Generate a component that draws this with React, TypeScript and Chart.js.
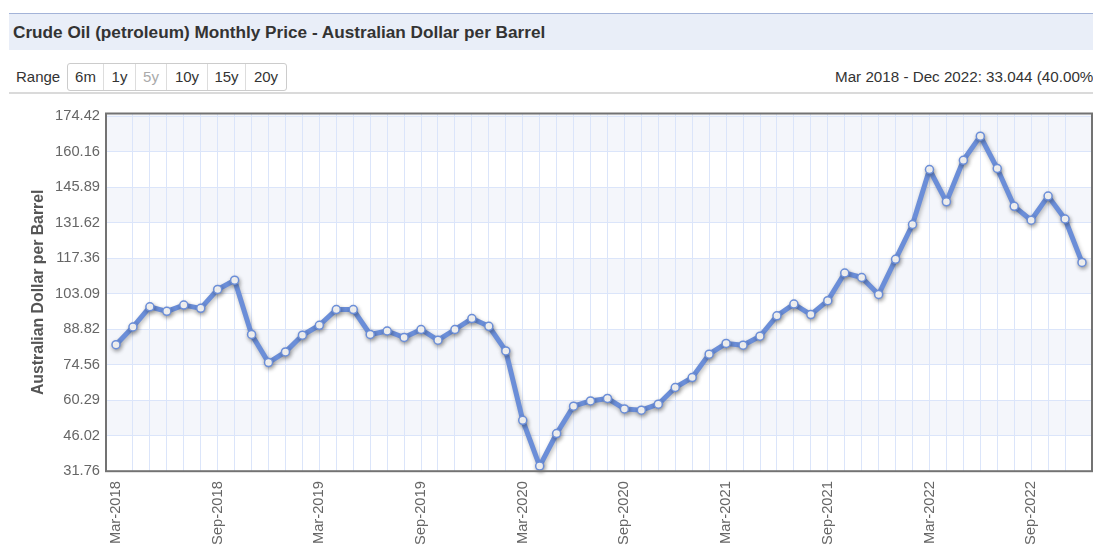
import React, { useEffect, useRef } from "react";
import { Chart, registerables } from "chart.js";

Chart.register(...registerables);

const months: string[] = [
  "Mar-2018", "Apr-2018", "May-2018", "Jun-2018", "Jul-2018", "Aug-2018",
  "Sep-2018", "Oct-2018", "Nov-2018", "Dec-2018", "Jan-2019", "Feb-2019",
  "Mar-2019", "Apr-2019", "May-2019", "Jun-2019", "Jul-2019", "Aug-2019",
  "Sep-2019", "Oct-2019", "Nov-2019", "Dec-2019", "Jan-2020", "Feb-2020",
  "Mar-2020", "Apr-2020", "May-2020", "Jun-2020", "Jul-2020", "Aug-2020",
  "Sep-2020", "Oct-2020", "Nov-2020", "Dec-2020", "Jan-2021", "Feb-2021",
  "Mar-2021", "Apr-2021", "May-2021", "Jun-2021", "Jul-2021", "Aug-2021",
  "Sep-2021", "Oct-2021", "Nov-2021", "Dec-2021", "Jan-2022", "Feb-2022",
  "Mar-2022", "Apr-2022", "May-2022", "Jun-2022", "Jul-2022", "Aug-2022",
  "Sep-2022", "Oct-2022", "Nov-2022", "Dec-2022",
];

const prices: number[] = [
  82.61, 89.7, 97.8, 96.0, 98.5, 97.2,
  104.8, 108.5, 86.7, 75.4, 79.7, 86.4,
  90.4, 96.7, 96.7, 86.7, 88.1, 85.5,
  88.7, 84.4, 88.7, 93.1, 90.0, 80.1,
  52.2, 33.8, 46.9, 57.9, 60.0, 61.0,
  56.8, 56.3, 58.7, 65.4, 69.4, 78.8,
  83.1, 82.4, 86.0, 94.2, 98.9, 94.7,
  100.3, 111.4, 109.6, 102.8, 116.9, 130.9,
  153.0, 140.0, 156.7, 166.4, 153.4, 138.2,
  132.6, 142.3, 133.1, 115.65,
];

const yTickValues: number[] = [
  31.76, 46.02, 60.29, 74.56, 88.82, 103.09, 117.36, 131.62, 145.89, 160.16, 174.42,
];

const labelEvery = 6;
const rangeButtons: string[] = ["6m", "1y", "5y", "10y", "15y", "20y"];
const rangeWidths: number[] = [35, 32, 31, 41, 38, 41];
const titleText = "Crude Oil (petroleum) Monthly Price - Australian Dollar per Barrel";
const summaryText = "Mar 2018 - Dec 2022: 33.044 (40.00%)";
const yAxisTitle = "Australian Dollar per Barrel";

const FONT = "'Liberation Sans', Arial, Helvetica, sans-serif";
const LINE = "#6b8ed8";
const GRID = "#dbe5fa";

export default function App() {
  const ref = useRef<HTMLCanvasElement>(null);

  useEffect(() => {
    if (!ref.current) return;

    const bandsPlugin = {
      id: "bands",
      beforeDraw(chart: any) {
        const { ctx, chartArea: a, scales } = chart;
        const y = scales.y;
        ctx.save();
        ctx.fillStyle = "#ffffff";
        ctx.fillRect(a.left, a.top, a.right - a.left, a.bottom - a.top);
        ctx.fillStyle = "#f4f6fb";
        const desc = [...yTickValues].sort((p, q) => q - p);
        for (let k = 0; k < desc.length - 1; k += 2) {
          const t = k === 0 ? a.top : y.getPixelForValue(desc[k]);
          const b = y.getPixelForValue(desc[k + 1]);
          ctx.fillRect(a.left, t, a.right - a.left, b - t);
        }
        ctx.restore();
      },
    };

    const shadowPlugin = {
      id: "shadow",
      beforeDatasetDraw(chart: any) {
        const ctx = chart.ctx;
        ctx.save();
        ctx.shadowColor = "rgba(0,0,0,0.28)";
        ctx.shadowBlur = 4;
        ctx.shadowOffsetX = 1;
        ctx.shadowOffsetY = 2;
      },
      afterDatasetDraw(chart: any) {
        chart.ctx.restore();
      },
    };

    const borderPlugin = {
      id: "plotBorder",
      afterDraw(chart: any) {
        const { ctx, chartArea: a } = chart;
        ctx.save();
        ctx.strokeStyle = "#737373";
        ctx.lineWidth = 2;
        ctx.strokeRect(a.left, a.top, a.right - a.left, a.bottom - a.top);
        ctx.restore();
      },
    };

    const chart = new Chart(ref.current, {
      type: "line",
      data: {
        datasets: [
          {
            data: prices.map((v, i) => ({ x: i, y: v })),
            borderColor: LINE,
            borderWidth: 5,
            borderJoinStyle: "round",
            borderCapStyle: "round",
            tension: 0,
            pointRadius: 4,
            pointBackgroundColor: "#ffffff",
            pointBorderColor: LINE,
            pointBorderWidth: 1.5,
            clip: false as any,
          },
        ],
      },
      options: {
        animation: false,
        responsive: false,
        layout: { padding: { top: 17.5, right: 0, left: 0, bottom: 0 } },
        plugins: {
          legend: { display: false },
          tooltip: { enabled: false },
        },
        scales: {
          x: {
            type: "linear",
            min: -0.59,
            max: 57.59,
            afterBuildTicks: (s: any) => {
              s.ticks = months.map((_, i) => ({ value: i }));
            },
            afterFit: (s: any) => {
              s.height = 78.8;
              s.paddingRight = 9;
            },
            border: { display: false },
            grid: {
              drawTicks: false,
              lineWidth: 1,
              color: (c: any) =>
                c.tick && (c.tick.value === 0 || c.tick.value === months.length - 1)
                  ? "rgba(0,0,0,0)"
                  : GRID,
            },
            ticks: {
              autoSkip: false,
              maxRotation: 90,
              minRotation: 90,
              padding: 10,
              color: "#666666",
              font: { family: FONT, size: 14.7 },
              callback: (v: any) => {
                const i = Math.round(Number(v));
                return i % labelEvery === 0 ? months[i] : "";
              },
            },
          },
          y: {
            min: 31.76,
            max: 175.5,
            afterBuildTicks: (s: any) => {
              s.ticks = yTickValues.map((v) => ({ value: v }));
            },
            afterFit: (s: any) => {
              s.width = 98;
            },
            border: { display: false },
            grid: {
              drawTicks: false,
              lineWidth: 1,
              color: (c: any) =>
                c.tick && c.tick.value === yTickValues[0] ? "rgba(0,0,0,0)" : GRID,
            },
            ticks: {
              padding: 6,
              color: "#666666",
              font: { family: FONT, size: 14.7 },
              callback: (v: any) => Number(v).toFixed(2),
            },
            title: {
              display: true,
              text: yAxisTitle,
              color: "#555555",
              font: { family: FONT, size: 15.8, weight: "bold" },
              padding: { top: 21, bottom: 0 },
            },
          },
        },
      },
      plugins: [bandsPlugin, shadowPlugin, borderPlugin],
    } as any);

    return () => chart.destroy();
  }, []);

  return (
    <div
      style={{
        position: "relative",
        width: 1093,
        height: 543,
        overflow: "hidden",
        fontFamily: FONT,
        color: "#333",
      }}
    >
      <div
        style={{
          position: "absolute",
          left: 1,
          top: 5,
          width: 1100,
          height: 36,
          borderTop: "1px solid #a3b3d8",
          background: "#e9eef8",
        }}
      >
        <div
          style={{
            paddingLeft: 4,
            lineHeight: "36px",
            fontSize: 17.2,
            fontWeight: "bold",
            color: "#333",
            whiteSpace: "nowrap",
          }}
        >
          {titleText}
        </div>
      </div>

      <div
        style={{
          position: "absolute",
          left: 8,
          top: 59,
          lineHeight: "20px",
          fontSize: 15,
          color: "#333",
        }}
      >
        Range
      </div>

      <div
        style={{
          position: "absolute",
          left: 59,
          top: 55,
          height: 26,
          display: "flex",
          border: "1px solid #cccccc",
          borderRadius: 3,
          background: "#fff",
        }}
      >
        {rangeButtons.map((b, i) => (
          <div
            key={b}
            style={{
              width: rangeWidths[i],
              textAlign: "center",
              lineHeight: "26px",
              fontSize: 15,
              color: b === "5y" ? "#aaaaaa" : "#333",
              borderLeft: i === 0 ? "none" : "1px solid #dddddd",
              boxSizing: "border-box",
            }}
          >
            {b}
          </div>
        ))}
      </div>

      <div
        style={{
          position: "absolute",
          left: 827,
          top: 59,
          lineHeight: "20px",
          fontSize: 15.2,
          color: "#333",
          whiteSpace: "nowrap",
        }}
      >
        {summaryText}
      </div>

      <div
        style={{
          position: "absolute",
          left: 1,
          top: 84,
          width: 1100,
          height: 2,
          background: "#dadada",
        }}
      />

      <canvas
        ref={ref}
        width={1093}
        height={454}
        style={{ position: "absolute", left: 0, top: 88, width: 1093, height: 454 }}
      />
    </div>
  );
}
